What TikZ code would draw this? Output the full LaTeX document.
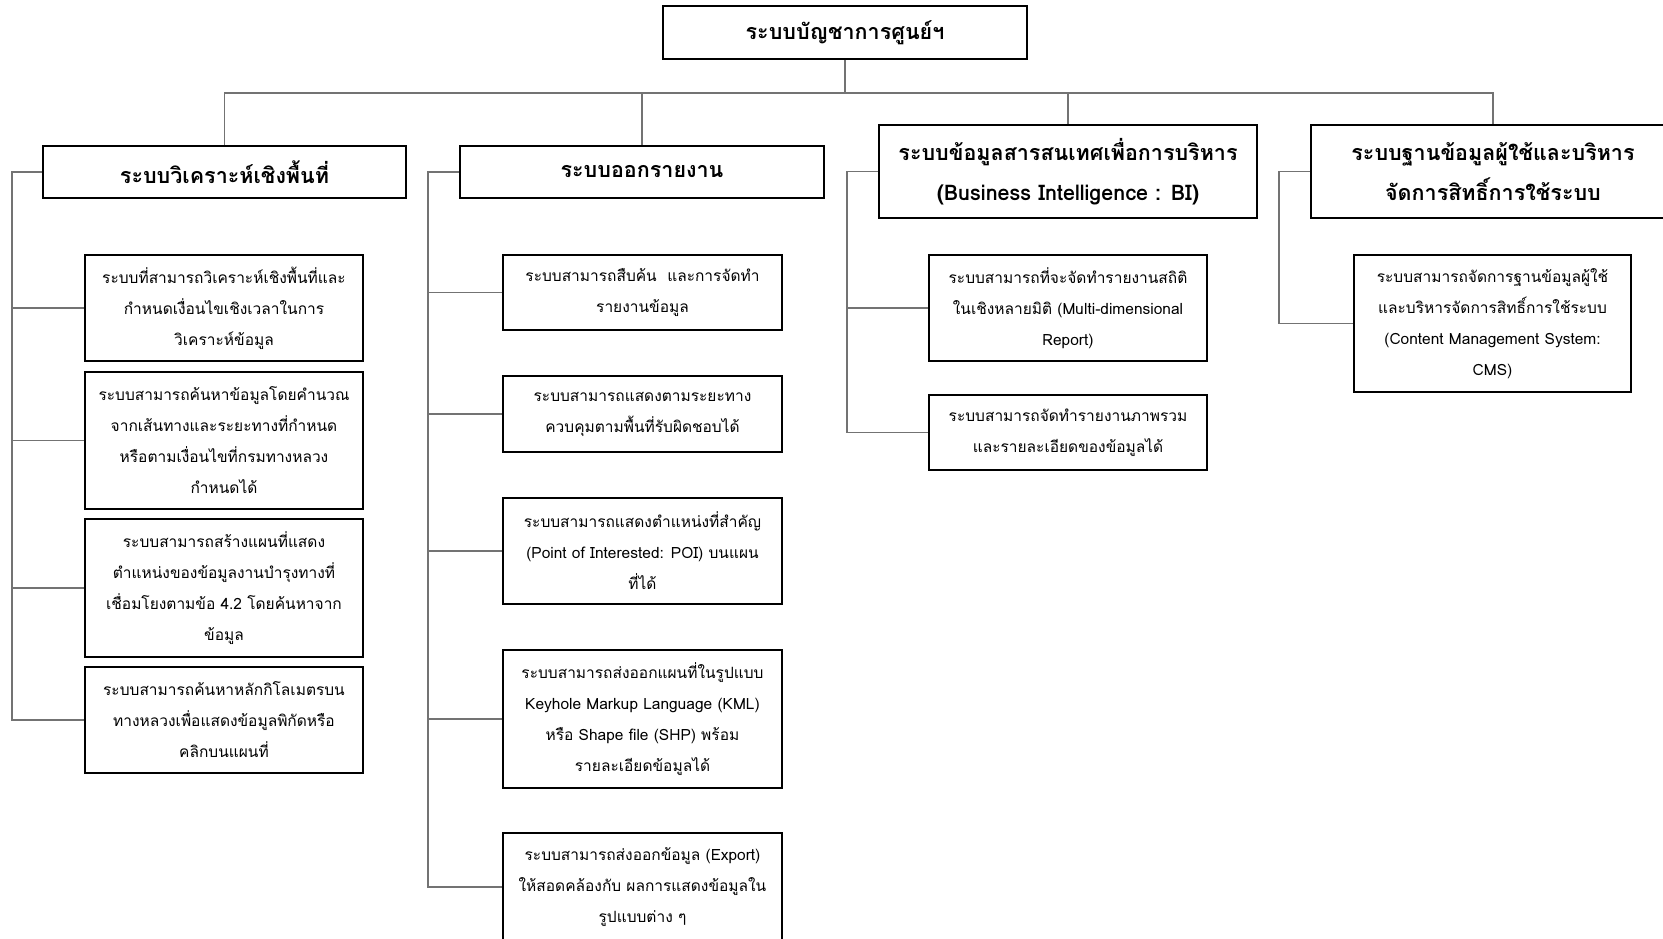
\documentclass[tikz,border=0pt]{standalone}
\usepackage{fontspec}
\setmainfont[Script=Thai]{Loma}
\usepackage{tikz}
\usetikzlibrary{positioning, calc}
\colorlet{linkgray}{black!55}
\tikzset{
  headbox/.style={draw=black, line width=1.6pt, fill=white, align=center,
    font=\fontsize{21.5}{40}\selectfont\bfseries, inner sep=0pt},
  leafbox/.style={draw=black, line width=1.6pt, fill=white, align=center,
    font=\fontsize{15.5}{31}\selectfont, inner sep=0pt},
  link/.style={draw=linkgray, line width=1.1pt}
}

\begin{document}
\begin{tikzpicture}[x=1pt, y=-1pt]
    \useasboundingbox (0,0) rectangle (1663,939);
    % top and second level
    \node[headbox, minimum width=364, minimum height=53] (top) at (845,32.5) {ระบบบัญชาการศูนย์ฯ};
    \coordinate (bus) at (845,93);
    \node[headbox, minimum width=363, minimum height=52] (A) at (224.5,172) {ระบบวิเคราะห์เชิงพื้นที่};
    \node[headbox, minimum width=364, minimum height=52] (B) at (642,172) {ระบบออกรายงาน};
    \node[headbox, minimum width=378, minimum height=93] (C) at (1068,171.5) {ระบบข้อมูลสารสนเทศเพื่อการบริหาร\\(Business Intelligence : BI)};
    \node[headbox, minimum width=364, minimum height=93] (D) at (1493,171.5) {ระบบฐานข้อมูลผู้ใช้และบริหาร\\จัดการสิทธิ์การใช้ระบบ};
    % column A
    \node[leafbox, minimum width=278, minimum height=106] (A1) at (224,308) {ระบบที่สามารถวิเคราะห์เชิงพื้นที่และ\\กำหนดเงื่อนไขเชิงเวลาในการ\\วิเคราะห์ข้อมูล};
    \node[leafbox, minimum width=278, minimum height=137] (A2) at (224,440.5) {ระบบสามารถค้นหาข้อมูลโดยคำนวณ\\จากเส้นทางและระยะทางที่กำหนด\\หรือตามเงื่อนไขที่กรมทางหลวง\\กำหนดได้};
    \node[leafbox, minimum width=278, minimum height=138] (A3) at (224,588) {ระบบสามารถสร้างแผนที่แสดง\\ตำแหน่งของข้อมูลงานบำรุงทางที่\\เชื่อมโยงตามข้อ 4.2 โดยค้นหาจาก\\ข้อมูล};
    \node[leafbox, minimum width=278, minimum height=106] (A4) at (224,720) {ระบบสามารถค้นหาหลักกิโลเมตรบน\\ทางหลวงเพื่อแสดงข้อมูลพิกัดหรือ\\คลิกบนแผนที่};
    % column B
    \node[leafbox, minimum width=279, minimum height=75] (B1) at (642.5,292.5) {ระบบสามารถสืบค้น\ \ และการจัดทำ\\รายงานข้อมูล};
    \node[leafbox, minimum width=279, minimum height=76] (B2) at (642.5,414) {ระบบสามารถแสดงตามระยะทาง\\ควบคุมตามพื้นที่รับผิดชอบได้};
    \node[leafbox, minimum width=279, minimum height=106] (B3) at (642.5,551) {ระบบสามารถแสดงตำแหน่งที่สำคัญ\\(Point of Interested: POI) บนแผน\\ที่ได้};
    \node[leafbox, minimum width=279, minimum height=138] (B4) at (642.5,719) {ระบบสามารถส่งออกแผนที่ในรูปแบบ\\Keyhole Markup Language (KML)\\หรือ Shape file (SHP) พร้อม\\รายละเอียดข้อมูลได้};
    \node[leafbox, minimum width=279, minimum height=108] (B5) at (642.5,887) {ระบบสามารถส่งออกข้อมูล (Export)\\ให้สอดคล้องกับ ผลการแสดงข้อมูลใน\\รูปแบบต่าง ๆ};
    % column C
    \node[leafbox, minimum width=278, minimum height=106] (C1) at (1068,308) {ระบบสามารถที่จะจัดทำรายงานสถิติ\\ในเชิงหลายมิติ (Multi-dimensional\\Report)};
    \node[leafbox, minimum width=278, minimum height=75] (C2) at (1068,432.5) {ระบบสามารถจัดทำรายงานภาพรวม\\และรายละเอียดของข้อมูลได้};
    % column D
    \node[leafbox, minimum width=277, minimum height=137] (D1) at (1492.5,323.5) {ระบบสามารถจัดการฐานข้อมูลผู้ใช้\\และบริหารจัดการสิทธิ์การใช้ระบบ\\(Content Management System:\\CMS)};
    % connectors
    \draw[link] (top.south) -- (bus);
    \draw[link] (A.north) |- (bus) -| (D.north);
    \draw[link] (B.north) -- (B.north |- bus);
    \draw[link] (C.north) -- (C.north |- bus);
    \coordinate (spA) at (12,0);
    \coordinate (spB) at (428,0);
    \coordinate (spC) at (847,0);
    \coordinate (spD) at (1279,0);
    \draw[link] (A.west) -| (A4.west -| spA) -- (A4.west);
    \foreach \n in {A1,A2,A3} \draw[link] (\n.west) -- (\n.west -| spA);
    \draw[link] (B.west) -| (B5.west -| spB) -- (B5.west);
    \foreach \n in {B1,B2,B3,B4} \draw[link] (\n.west) -- (\n.west -| spB);
    \draw[link] (C.west) -| (C2.west -| spC) -- (C2.west);
    \draw[link] (C1.west) -- (C1.west -| spC);
    \draw[link] (D.west) -| (D1.west -| spD) -- (D1.west);
  \end{tikzpicture}
\end{document}
